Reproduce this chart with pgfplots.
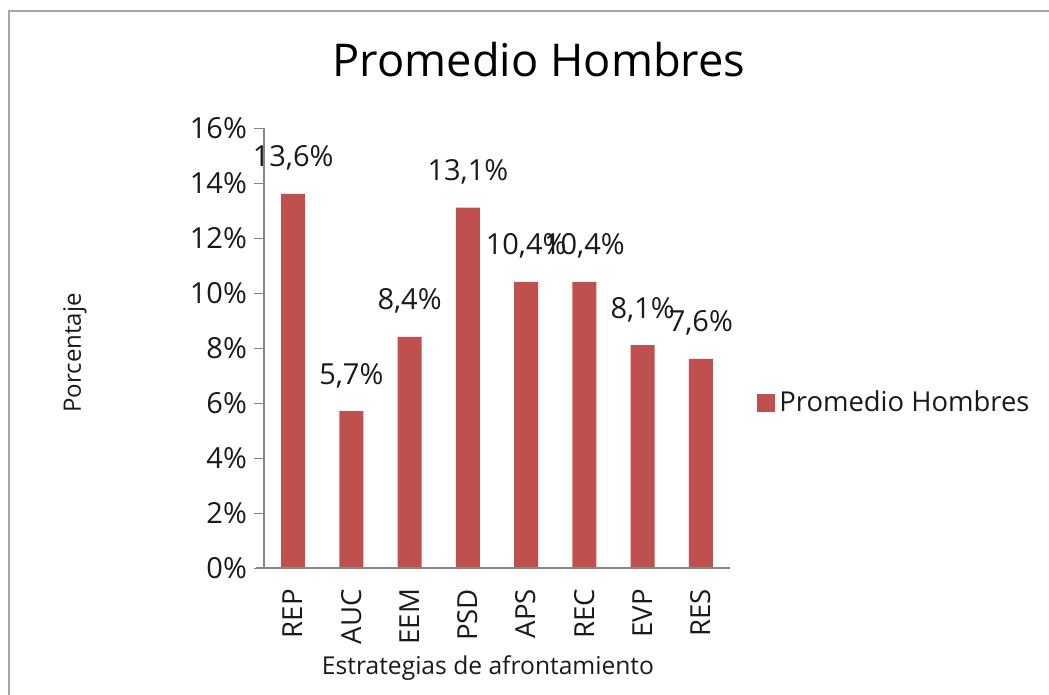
\documentclass[border=0pt]{standalone}
\usepackage{pgfplots}
\pgfplotsset{compat=1.18}
\usepackage{fontspec}
\setmainfont{Open Sans}
\definecolor{barred}{HTML}{C0504D}
\definecolor{axgray}{HTML}{868686}
\definecolor{framegray}{HTML}{A6A6A6}
\definecolor{txt}{HTML}{1A1A1A}
\newcommand{\fs}[1]{\fontsize{#1}{1.2\dimexpr#1pt\relax}\selectfont}
\begin{document}
\begin{tikzpicture}[x=1pt,y=1pt]
% 1 px of the reference = 0.5 pt
\useasboundingbox (0,0) rectangle (524.5,347.5);
\draw[framegray, line width=1pt] (4.5,0) -- (4.5,342) -- (524.5,342);

\begin{axis}[
    at={(132pt,63.5pt)}, anchor=south west,
    scale only axis, width=233pt, height=220pt,
    xmin=-0.5, xmax=7.5,
    ymin=0, ymax=16,
    xtick={0,...,7},
    xticklabels={REP,AUC,EEM,PSD,APS,REC,EVP,RES},
    xtick style={draw=none},
    xticklabel style={yshift=-2pt, rotate=90, anchor=east, font=\fs{13.8}, text=txt},
    ytick={0,2,...,16},
    yticklabel={\pgfmathprintnumber{\tick}\%},
    yticklabel style={font=\fs{14.5}, text=txt},
    /pgf/number format/assume math mode=true,
    tick align=outside,
    major tick length=5pt,
    ytick style={axgray},
    axis x line*=bottom,
    x axis line style={draw=none},
    axis y line*=left,
    axis line style={axgray, line width=0.6pt},
    ybar, bar width=12pt,
    nodes near coords={\pgfmathprintnumber[use comma, fixed, fixed zerofill, precision=1]{\pgfplotspointmeta}\%},
    nodes near coords style={anchor=base, yshift=13.5pt, font=\fs{14.5}, text=txt},
    legend style={at={(rel axis cs:1.058,0.375)}, anchor=west, draw=none,
        font=\fs{13.7}, text=txt, inner sep=0pt},
    legend image code/.code={\fill[#1] (0pt,-4.5pt) rectangle (9pt,4.5pt);},
    clip=false,
]
\addplot[fill=barred, draw=none] coordinates {
    (0,13.6) (1,5.7) (2,8.4) (3,13.1) (4,10.4) (5,10.4) (6,8.1) (7,7.6)
};
\addlegendentry{Promedio Hombres}
\draw[axgray, line width=0.6pt] ([xshift=-4pt]rel axis cs:0,0) -- (rel axis cs:1,0);
\end{axis}

\node[anchor=base, font=\fs{22.6}, text=black] at (269.5,309) {Promedio Hombres};
\node[anchor=base, font=\fs{12.3}, text=txt] at (244,10) {Estrategias de afrontamiento};
\node[rotate=90, font=\fs{12}, text=txt] at (37.5,171) {Porcentaje};
\end{tikzpicture}
\end{document}
